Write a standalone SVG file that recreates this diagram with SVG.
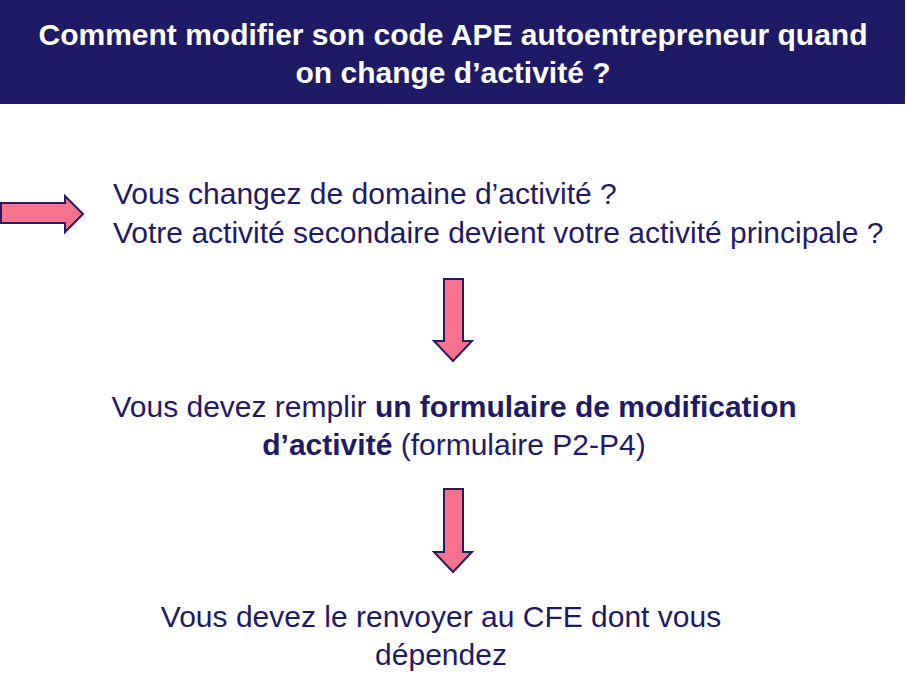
<svg xmlns="http://www.w3.org/2000/svg" width="906" height="676" viewBox="0 0 906 676">
<style>
.t{font-family:"Liberation Sans",Arial,sans-serif;fill:#1f1a66;font-size:30px}
.h{font-family:"Liberation Sans",Arial,sans-serif;fill:#ffffff;font-size:30px;font-weight:bold}
.b{font-weight:bold}
.arr{fill:#f7728f;stroke:#2a1a5e;stroke-width:2;stroke-linejoin:miter}
</style>
<rect width="906" height="676" fill="#ffffff"/>
<g id="title">
<rect x="0" y="0" width="905" height="104" fill="#1f1a66"/>
<text class="h" x="453" y="45" text-anchor="middle">Comment modifier son code APE autoentrepreneur quand</text>
<text class="h" x="453" y="83" text-anchor="middle">on change d’activité ?</text>
</g>
<g id="connectors">
<polygon class="arr" points="1,203 65,203 65,196 83,214 65,232 65,223 1,223"/>
<polygon class="arr" points="444,279 463,279 463,341 472,341 453,361 434,341 444,341"/>
<polygon class="arr" points="444,489 463,489 463,552 472,552 453,572 434,552 444,552"/>
</g>
<g id="question">
<text class="t" x="113" y="204">Vous changez de domaine d’activité ?</text>
<text class="t" x="113" y="243">Votre activité secondaire devient votre activité principale ?</text>
</g>
<g id="form">
<text class="t" x="454" y="417" text-anchor="middle">Vous devez remplir <tspan class="b">un formulaire de modification</tspan></text>
<text class="t" x="454" y="455" text-anchor="middle"><tspan class="b">d’activité</tspan> (formulaire P2-P4)</text>
</g>
<g id="send">
<text class="t" x="441" y="627" text-anchor="middle">Vous devez le renvoyer au CFE dont vous</text>
<text class="t" x="441" y="665" text-anchor="middle">dépendez</text>
</g>
</svg>
